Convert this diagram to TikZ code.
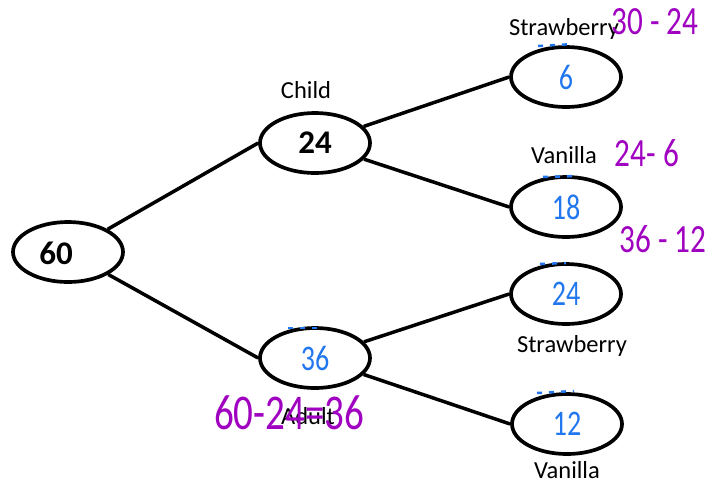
\documentclass[tikz,border=0pt]{standalone}
\usepackage{fontspec}
\setmainfont{Carlito}
\newfontfamily\hand[FakeStretch=0.78]{Carlito}
\usetikzlibrary{shapes.geometric}
\definecolor{hpurple}{HTML}{A000C0}
\definecolor{hblue}{HTML}{2277EE}
\begin{document}
\begin{tikzpicture}[x=1pt,y=-1pt,
  ell/.style={ellipse, draw, line width=3.7pt, minimum width=110pt, minimum height=60pt, inner sep=0pt},
  conn/.style={line width=3.5pt},
  lbl/.style={font=\fontsize{24.5}{28}\selectfont, anchor=base, inner sep=0pt},
  big/.style={font=\bfseries\fontsize{33}{36}\selectfont, inner sep=0pt},
  bluenum/.style={text=hblue, font=\hand\fontsize{36}{40}\selectfont},
  purp/.style={text=hpurple, font=\hand\fontsize{40}{44}\selectfont, inner sep=0pt},
  erase/.style={draw=hblue, line width=2.5pt, dash pattern=on 5pt off 7pt}
]
\useasboundingbox (0,0) rectangle (717,483);
% nodes
\node[ell] (n60) at (68,252) {};
\node[big] (t60) at (56,253) {60};
\node[ell, big] (n24) at (315,143) {24};
\node[ell, bluenum] (n36) at (315,358) {36};
\node[ell, bluenum] (n6) at (566,77) {6};
\node[ell, bluenum] (n18) at (566,207) {18};
\node[ell, bluenum] (n24b) at (566,294) {24};
\node[ell, bluenum] (n12) at (567,424) {12};
% connectors
\draw[conn] (n60) -- (n24.west);
\draw[conn] (n60) -- (n36.west);
\draw[conn] (n24) -- (n6.west);
\draw[conn] (n24) -- (n18.west);
\draw[conn] (n36) -- (n24b.west);
\draw[conn] (n36) -- (n12.west);
% labels
\node[lbl] (lchild) at (306,98) {Child};
\node[lbl] (ladult) at (308,424) {Adult};
\node[lbl] (ls1) at (564,35) {Strawberry};
\node[lbl] (lv1) at (564,163) {Vanilla};
\node[lbl] (ls2) at (572,352) {Strawberry};
\node[lbl] (lv2) at (567,478) {Vanilla};
% erased marks
\draw[erase] (538,46) -- (574,44);
\draw[erase] (543,177) -- (577,176);
\draw[erase] (540,264) -- (566,263);
\draw[erase] (288,328) -- (318,328);
\draw[erase] (537,393) -- (574,391);
% handwritten working
\node[purp] (w1) at (655,22) {30 - 24};
\node[purp] (w2) at (647,153) {24- 6};
\node[purp] (w3) at (663,239) {36 - 12};
\node[purp, font=\hand\fontsize{50}{54}\selectfont] (w4) at (289,413) {60-24=36};
\end{tikzpicture}
\end{document}
